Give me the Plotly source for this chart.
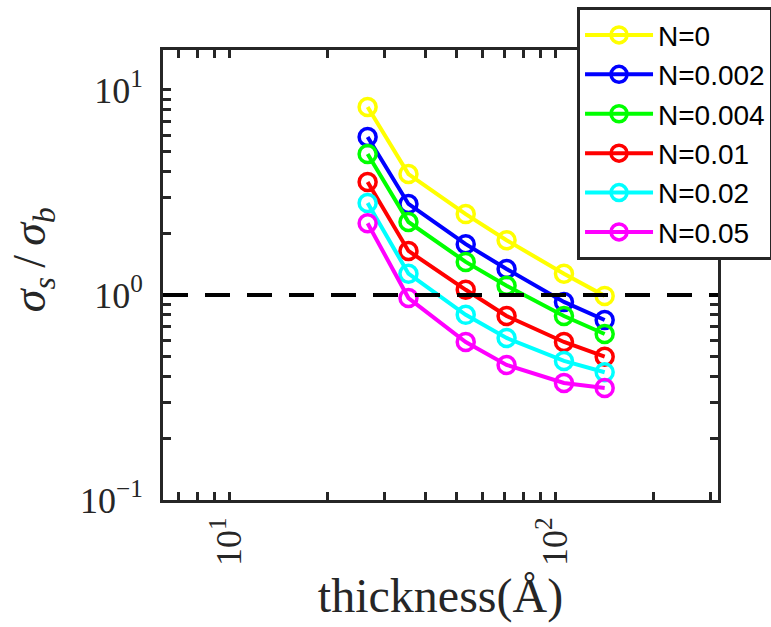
import plotly.graph_objects as go

thickness = [26.6, 35.5, 53.2, 71.0, 106.5, 142.0]
series_names = ["N=0", "N=0.002", "N=0.004", "N=0.01", "N=0.02", "N=0.05"]
series_colors = ["#FFFF00", "#0000FF", "#00FF00", "#FF0000", "#00FFFF", "#FF00FF"]
ratio_N0 = [8.26, 3.89, 2.48, 1.85, 1.27, 0.99]
ratio_N002 = [5.90, 2.78, 1.77, 1.34, 0.925, 0.755]
ratio_N004 = [4.87, 2.27, 1.45, 1.11, 0.79, 0.645]
ratio_N01 = [3.56, 1.64, 1.06, 0.79, 0.59, 0.50]
ratio_N02 = [2.81, 1.27, 0.80, 0.617, 0.477, 0.42]
ratio_N05 = [2.24, 0.966, 0.59, 0.456, 0.372, 0.352]
series_values = [ratio_N0, ratio_N002, ratio_N004, ratio_N01, ratio_N02, ratio_N05]

x_tickvals = [7, 8, 9, 10, 20, 30, 40, 50, 60, 70, 80, 90, 100, 200, 300]
x_ticktext = ["" if v not in (10, 100) else ("10<sup>1</sup>" if v == 10 else "10<sup>2</sup>") for v in x_tickvals]
y_tickvals = [0.1, 0.2, 0.3, 0.4, 0.5, 0.6, 0.7, 0.8, 0.9, 1, 2, 3, 4, 5, 6, 7, 8, 9, 10]
y_labels = {0.1: "10<sup>\u22121</sup>", 1: "10<sup>0</sup>", 10: "10<sup>1</sup>"}
y_ticktext = [y_labels.get(v, "") for v in y_tickvals]
y_title = "<i>σ</i><sub><i>s</i></sub>\u2009/\u2009<i>σ</i><sub><i>b</i></sub>"
x_title = "thickness(Å)"

AX = "#262626"
SERIF = "Liberation Serif, Times New Roman"
fig = go.Figure()
for name, color, vals in zip(series_names, series_colors, series_values):
    fig.add_trace(go.Scatter(
        x=thickness, y=vals, name=name, mode="lines+markers",
        line=dict(color=color, width=4),
        marker=dict(symbol="circle-open", size=17, color=color, line=dict(color=color, width=3.5)),
    ))

fig.add_hline(y=1, line=dict(color="black", width=4, dash="25px,17px"))

fig.add_annotation(
    text=y_title, xref="paper", yref="paper", x=-0.234, y=0.533,
    xanchor="center", yanchor="middle", textangle=-90, showarrow=False,
    font=dict(family=SERIF, size=46, color=AX),
)

fig.update_layout(
    width=771, height=627,
    margin=dict(l=163, r=53, t=50, b=127, autoexpand=False),
    paper_bgcolor="white", plot_bgcolor="white",
    showlegend=True,
    legend=dict(
        x=0.746, y=1.095, xanchor="left", yanchor="top",
        bgcolor="white", bordercolor=AX, borderwidth=3,
        font=dict(family="Liberation Sans, Arial", size=28, color="black"),
        itemwidth=68,
    ),
)
fig.update_xaxes(
    type="log", range=[0.797, 2.5],
    tickvals=x_tickvals, ticktext=x_ticktext, tickangle=-90,
    ticks="inside", ticklen=8, tickwidth=3, tickcolor=AX,
    showline=True, linecolor=AX, linewidth=3, mirror="ticks",
    showgrid=False, zeroline=False,
    tickfont=dict(family=SERIF, size=36, color=AX),
    title=dict(text=x_title, font=dict(family=SERIF, size=48, color=AX), standoff=14),
)
fig.update_yaxes(
    type="log", range=[-1, 1.195],
    tickvals=y_tickvals, ticktext=y_ticktext,
    ticks="inside", ticklen=8, tickwidth=3, tickcolor=AX,
    showline=True, linecolor=AX, linewidth=3, mirror="ticks",
    showgrid=False, zeroline=False, ticklabelstandoff=10,
    tickfont=dict(family=SERIF, size=36, color=AX),
)

fig.write_html("out.html")
